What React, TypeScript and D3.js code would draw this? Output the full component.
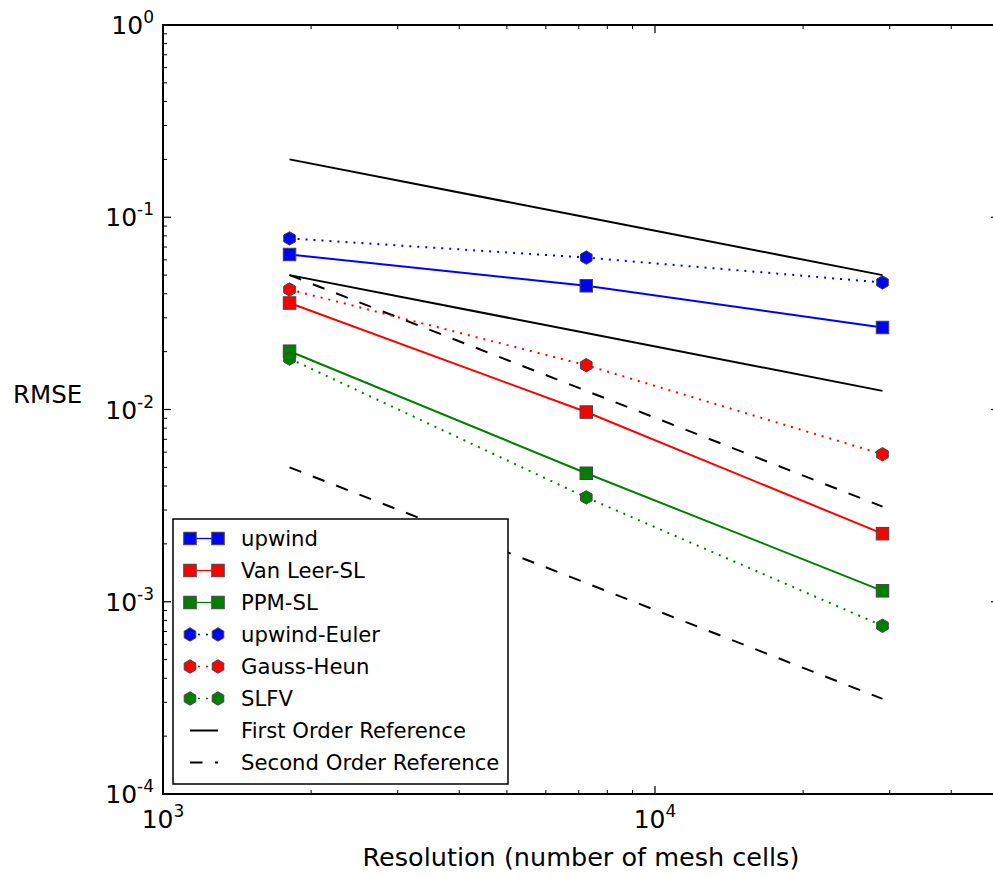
import React from 'react';
import * as d3 from 'd3';

const resolution = [1808, 7250, 29000];
const upwind = [0.064, 0.044, 0.0267];
const vanLeerSL = [0.0358, 0.0097, 0.00226];
const ppmSL = [0.0201, 0.00466, 0.00114];
const upwindEuler = [0.0776, 0.0617, 0.0458];
const gaussHeun = [0.0421, 0.017, 0.00585];
const slfv = [0.0184, 0.00349, 0.00075];
const firstOrderHigh = [0.2, 0.1, 0.05];
const firstOrderLow = [0.05, 0.025, 0.0125];
const secondOrderHigh = [0.05, 0.0125, 0.003125];
const secondOrderLow = [0.005, 0.00125, 0.0003125];

const xMajorTicks = [1e3, 1e4];
const xMajorExp = ['3', '4'];
const yMajorTicks = [1e-4, 1e-3, 1e-2, 1e-1, 1];
const yMajorExp = ['-4', '-3', '-2', '-1', '0'];

type Series = {
  name: string;
  values: number[];
  color: string;
  marker: 'square' | 'hexagon' | 'none';
  dash: string;
};

const series: Series[] = [
  { name: 'upwind', values: upwind, color: '#0000ff', marker: 'square', dash: 'none' },
  { name: 'Van Leer-SL', values: vanLeerSL, color: '#ff0000', marker: 'square', dash: 'none' },
  { name: 'PPM-SL', values: ppmSL, color: '#008000', marker: 'square', dash: 'none' },
  { name: 'upwind-Euler', values: upwindEuler, color: '#0000ff', marker: 'hexagon', dash: '2,6' },
  { name: 'Gauss-Heun', values: gaussHeun, color: '#ff0000', marker: 'hexagon', dash: '2,6' },
  { name: 'SLFV', values: slfv, color: '#008000', marker: 'hexagon', dash: '2,6' },
];

const refLines = [
  { values: firstOrderHigh, dash: 'none' },
  { values: firstOrderLow, dash: 'none' },
  { values: secondOrderHigh, dash: '12.5,12.5' },
  { values: secondOrderLow, dash: '12.5,12.5' },
];

const legendItems = [
  ...series.map((s) => ({ name: s.name, color: s.color, marker: s.marker, dash: s.dash })),
  { name: 'First Order Reference', color: '#000', marker: 'none' as const, dash: 'none' },
  { name: 'Second Order Reference', color: '#000', marker: 'none' as const, dash: '12.5,12.5' },
];

const LEFT = 163;
const TOP = 25;
const BOTTOM = 794;
const DECADE_X = 492;
const RIGHT = LEFT + DECADE_X * Math.log10(50);

const x = d3.scaleLog().domain([1e3, 5e4]).range([LEFT, RIGHT]);
const y = d3.scaleLog().domain([1e-4, 1]).range([BOTTOM, TOP]);

const FONT = 'DejaVu Sans, sans-serif';

function Marker({ kind, cx, cy, color }: { kind: string; cx: number; cy: number; color: string }) {
  if (kind === 'square') {
    const s = 12.5;
    return <rect x={cx - s / 2} y={cy - s / 2} width={s} height={s} fill={color} stroke="#444" strokeWidth={1} />;
  }
  if (kind === 'hexagon') {
    const r = 6.7;
    const pts = d3.range(6).map((k) => {
      const a = -Math.PI / 2 + (k * Math.PI) / 3;
      return [cx + r * Math.cos(a), cy + r * Math.sin(a)].join(',');
    });
    return <polygon points={pts.join(' ')} fill={color} stroke="#444" strokeWidth={1} />;
  }
  return null;
}

export default function App() {
  const line = d3
    .line<number>()
    .x((_, i) => x(resolution[i]))
    .y((d) => y(d));

  const xMinor: number[] = [];
  for (const base of [1e3, 1e4]) {
    for (let k = 2; k <= 9; k++) {
      const v = base * k;
      if (v <= 5e4) xMinor.push(v);
    }
  }
  const yMinor: number[] = [];
  for (const base of [1e-4, 1e-3, 1e-2, 1e-1]) {
    for (let k = 2; k <= 9; k++) yMinor.push(base * k);
  }

  const legendX = 173;
  const legendY = 519;
  const legendW = 335;
  const legendH = 265;
  const rowY0 = 538.5;
  const rowStep = 32;

  return (
    <svg
      width={993}
      height={878}
      style={{ position: 'absolute', left: 0, top: 0, display: 'block', background: '#fff' }}
      fontFamily={FONT}
    >
      <rect x={0} y={0} width={993} height={878} fill="#fff" />

      {refLines.map((r, i) => (
        <path key={'ref' + i} d={line(r.values) || ''} fill="none" stroke="#000" strokeWidth={2} strokeDasharray={r.dash} />
      ))}

      {series.map((s) => (
        <g key={s.name}>
          <path d={line(s.values) || ''} fill="none" stroke={s.color} strokeWidth={2} strokeDasharray={s.dash} />
          {s.values.map((v, i) => (
            <Marker key={i} kind={s.marker} cx={x(resolution[i])} cy={y(v)} color={s.color} />
          ))}
        </g>
      ))}

      <rect x={LEFT} y={TOP} width={RIGHT - LEFT} height={BOTTOM - TOP} fill="none" stroke="#000" strokeWidth={2} />

      {xMajorTicks.map((t) => (
        <g key={'xM' + t}>
          <line x1={x(t)} x2={x(t)} y1={BOTTOM} y2={BOTTOM - 8} stroke="#000" strokeWidth={1.2} />
          <line x1={x(t)} x2={x(t)} y1={TOP} y2={TOP + 8} stroke="#000" strokeWidth={1.2} />
        </g>
      ))}
      {xMinor.map((t) => (
        <g key={'xm' + t}>
          <line x1={x(t)} x2={x(t)} y1={BOTTOM} y2={BOTTOM - 4} stroke="#000" strokeWidth={1} />
          <line x1={x(t)} x2={x(t)} y1={TOP} y2={TOP + 4} stroke="#000" strokeWidth={1} />
        </g>
      ))}
      {xMajorTicks.map((t, i) => (
        <text key={'xl' + t} x={x(t)} y={828} textAnchor="middle" fontSize={25} fill="#000">
          <tspan>10</tspan>
          <tspan dy={-11} fontSize={17}>{xMajorExp[i]}</tspan>
        </text>
      ))}

      {yMajorTicks.map((t) => (
        <g key={'yM' + t}>
          <line x1={LEFT} x2={LEFT + 8} y1={y(t)} y2={y(t)} stroke="#000" strokeWidth={1.2} />
          <line x1={RIGHT} x2={RIGHT - 8} y1={y(t)} y2={y(t)} stroke="#000" strokeWidth={1.2} />
        </g>
      ))}
      {yMinor.map((t) => (
        <g key={'ym' + t}>
          <line x1={LEFT} x2={LEFT + 4} y1={y(t)} y2={y(t)} stroke="#000" strokeWidth={1} />
          <line x1={RIGHT} x2={RIGHT - 4} y1={y(t)} y2={y(t)} stroke="#000" strokeWidth={1} />
        </g>
      ))}
      {yMajorTicks.map((t, i) => (
        <text key={'yl' + t} x={154} y={y(t) + 9} textAnchor="end" fontSize={25} fill="#000">
          <tspan>10</tspan>
          <tspan dy={-11} fontSize={17}>{yMajorExp[i]}</tspan>
        </text>
      ))}

      <text x={(LEFT + RIGHT) / 2} y={866} textAnchor="middle" fontSize={25.5} fill="#000">
        Resolution (number of mesh cells)
      </text>
      <text x={13} y={403} fontSize={24.5} fill="#000">
        RMSE
      </text>

      <rect x={legendX} y={legendY} width={legendW} height={legendH} fill="#fff" stroke="#000" strokeWidth={1.5} />
      {legendItems.map((it, i) => {
        const cy = rowY0 + i * rowStep;
        return (
          <g key={'lg' + i}>
            <line x1={190} x2={218} y1={cy} y2={cy} stroke={it.color} strokeWidth={it.marker === 'none' ? 2 : 1.3} strokeDasharray={it.dash} />
            <Marker kind={it.marker} cx={190} cy={cy} color={it.color} />
            <Marker kind={it.marker} cx={218} cy={cy} color={it.color} />
            <text x={241} y={cy + 7.5} fontSize={21.2} fill="#000">
              {it.name}
            </text>
          </g>
        );
      })}
    </svg>
  );
}
